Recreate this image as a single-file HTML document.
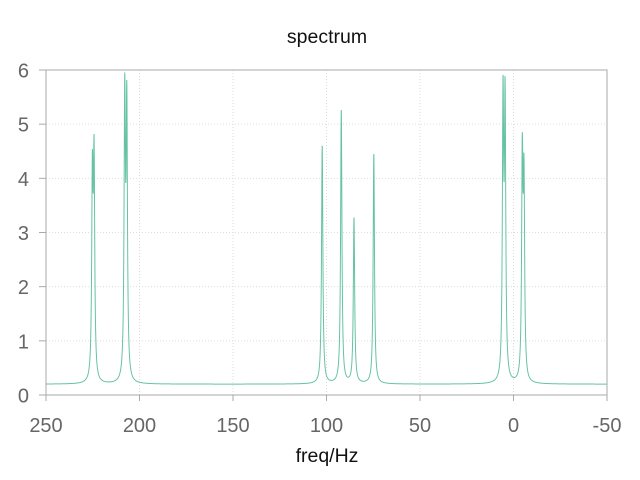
<!DOCTYPE html>
<html><head><meta charset="utf-8"><style>
body{margin:0;background:#fff;}
svg text{font-family:"Liberation Sans",Arial,sans-serif;}
</style></head><body>
<svg id="chart" width="640" height="475" xmlns="http://www.w3.org/2000/svg">
<rect width="640" height="475" fill="#fff"/>
<g id="grid"></g>
<rect x="46" y="70" width="561" height="325" fill="none" stroke="#aaa" stroke-width="1"/>
<g id="ticks"></g>
<path id="line" fill="none" stroke="#66c2a5" stroke-width="1"/>
<text x="327" y="43" text-anchor="middle" font-size="19.5" fill="#111">spectrum</text>
<text x="327" y="462" text-anchor="middle" font-size="19.5" fill="#111">freq/Hz</text>
</svg>
<script>
const peakPositions = [225.2, 224.3, 207.9, 206.8, 102.3, 92.1, 85.3, 74.7, 5.6, 4.5, -4.7, -5.6];
const peakHeights = [3.61, 3.95, 5.11, 4.96, 4.4, 5.05, 3.05, 4.25, 5.06, 5.03, 4.0, 3.53];
const peakWidth = 0.42;
const baseline = 0.2;
const xTicks = [250, 200, 150, 100, 50, 0, -50];
const yTicks = [0, 1, 2, 3, 4, 5, 6];

const X0 = 46, X1 = 607, Y0 = 395, Y1 = 70;
const xMin = 250, xMax = -50, yMin = 0, yMax = 6;
const sx = v => X0 + (v - xMin) / (xMax - xMin) * (X1 - X0);
const sy = v => Y0 + (v - yMin) / (yMax - yMin) * (Y1 - Y0);
const NS = "http://www.w3.org/2000/svg";
const grid = document.getElementById('grid'), ticks = document.getElementById('ticks');

xTicks.forEach(t => {
  const x = sx(t);
  if (t !== xMin && t !== xMax) {
    const l = document.createElementNS(NS, 'line');
    
    
    l.setAttribute('x1', x); l.setAttribute('x2', x); l.setAttribute('y1', Y1); l.setAttribute('y2', Y0);
    l.setAttribute('stroke', '#ddd'); l.setAttribute('stroke-dasharray', '1,2');
    grid.appendChild(l);
  }
  const tk = document.createElementNS(NS, 'line');
  
  
  tk.setAttribute('x1', x); tk.setAttribute('x2', x); tk.setAttribute('y1', Y0); tk.setAttribute('y2', Y0 + 6);
  tk.setAttribute('stroke', '#aaa');
  ticks.appendChild(tk);
  const tx = document.createElementNS(NS, 'text');
  
  
  tx.setAttribute('x', x); tx.setAttribute('y', 432);
  tx.setAttribute('text-anchor', 'middle'); tx.setAttribute('font-size', '20'); tx.setAttribute('fill', '#666');
  tx.textContent = t;
  ticks.appendChild(tx);
});
yTicks.forEach(t => {
  const y = sy(t);
  if (t !== yMin && t !== yMax) {
    const l = document.createElementNS(NS, 'line');
    
    
    l.setAttribute('x1', X0); l.setAttribute('x2', X1); l.setAttribute('y1', y); l.setAttribute('y2', y);
    l.setAttribute('stroke', '#ddd'); l.setAttribute('stroke-dasharray', '1,2');
    grid.appendChild(l);
  }
  const tk = document.createElementNS(NS, 'line');
  
  
  tk.setAttribute('x1', X0 - 7); tk.setAttribute('x2', X0); tk.setAttribute('y1', y); tk.setAttribute('y2', y);
  tk.setAttribute('stroke', '#aaa');
  ticks.appendChild(tk);
  const tx = document.createElementNS(NS, 'text');
  
  
  tx.setAttribute('x', 29); tx.setAttribute('y', y + 7.5);
  tx.setAttribute('text-anchor', 'end'); tx.setAttribute('font-size', '20'); tx.setAttribute('fill', '#666');
  tx.textContent = t;
  ticks.appendChild(tx);
});

const N = 5000;
let d = '';
for (let i = 0; i <= N; i++) {
  const f = xMin + (xMax - xMin) * i / N;
  let v = baseline;
  for (let k = 0; k < peakPositions.length; k++) {
    const dd = f - peakPositions[k];
    v += peakHeights[k] * peakWidth * peakWidth / (dd * dd + peakWidth * peakWidth);
  }
  d += (i ? 'L' : 'M') + sx(f).toFixed(2) + ',' + sy(v).toFixed(2);
}
document.getElementById('line').setAttribute('d', d);
</script>
</body></html>
